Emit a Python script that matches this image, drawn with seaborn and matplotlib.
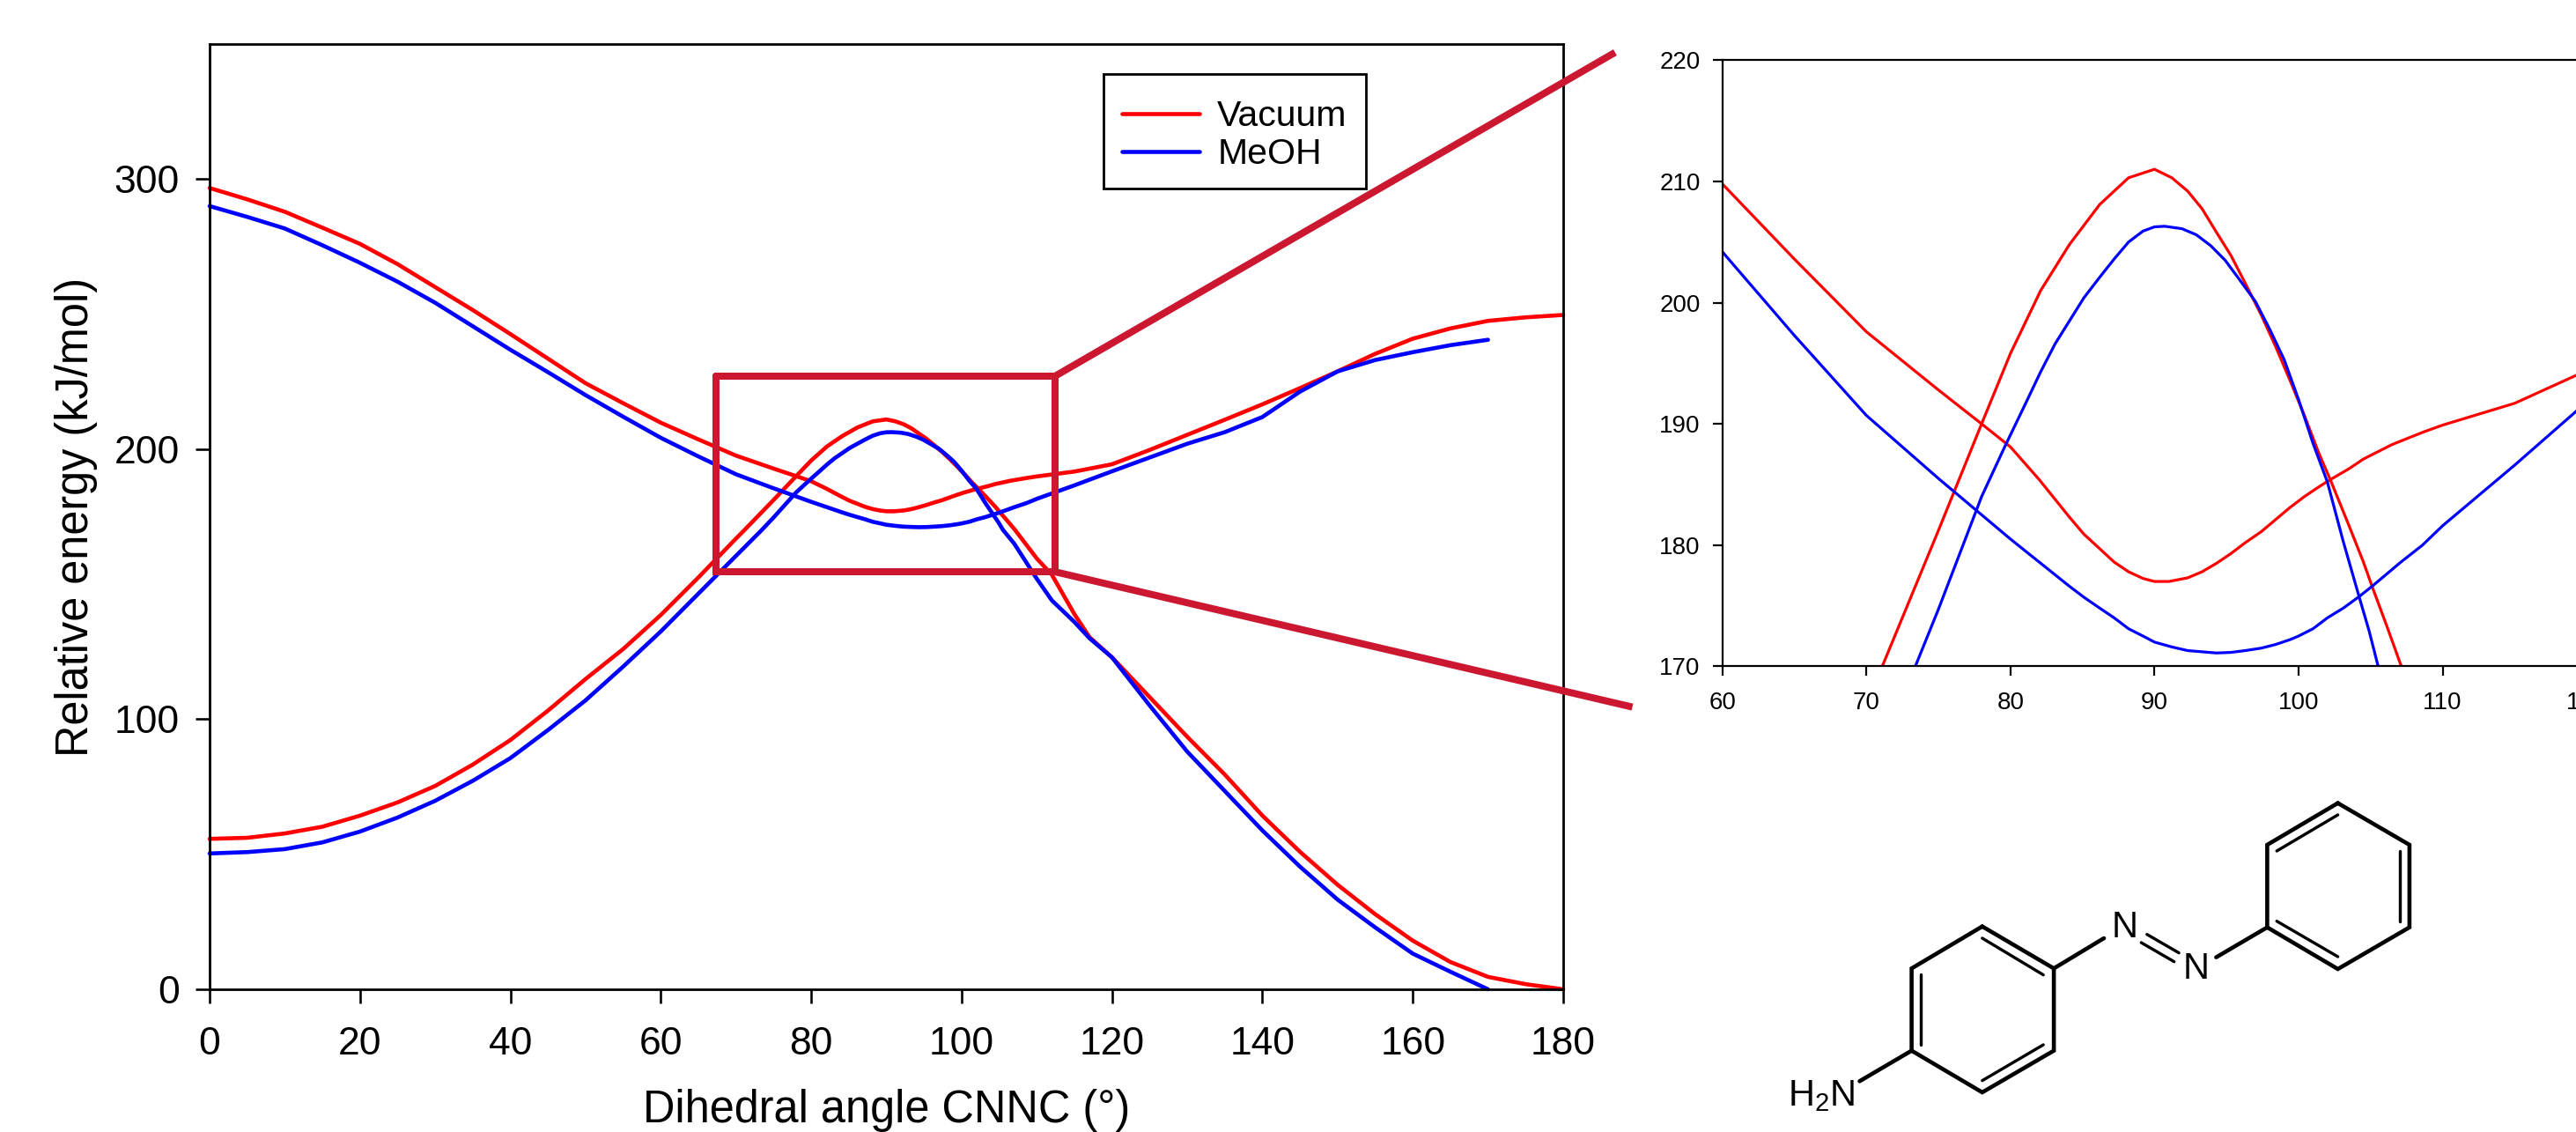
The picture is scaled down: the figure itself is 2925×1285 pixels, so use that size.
import matplotlib
matplotlib.use("Agg")
import matplotlib.pyplot as plt
from matplotlib.patches import Rectangle
import seaborn as sns
import pandas as pd

# upper curve (starts high at 0 deg), lower curve (starts low at 0 deg)
vac_up_x = [0, 5, 10, 15, 20, 25, 30, 35, 40, 45, 50, 55, 60, 65, 70, 75, 78, 80, 82, 84.1, 85.1, 86.2, 87.2,
            88.2, 89.2, 90, 91, 92.3, 93.3, 94.3, 95.3, 96.3, 97.4, 98.4, 99.4, 100.4, 101.4, 102.2, 103.5,
            104.5, 105.5, 106.5, 108.6, 110, 115, 120, 125, 130, 135, 140, 145, 150, 155, 160, 165, 170, 175, 180]
vac_up_y = [296.7, 292.5, 287.9, 282, 276, 268.5, 260, 251.5, 242.6, 233.5, 224.4, 217, 209.8, 203.6,
            197.6, 192.8, 190, 188.1, 185.4, 182.3, 180.9, 179.7, 178.6, 177.8, 177.25, 177, 177, 177.3,
            177.8, 178.5, 179.3, 180.2, 181.1, 182.1, 183.1, 184, 184.8, 185.4, 186.3, 187.1, 187.7, 188.3,
            189.3, 189.9, 191.7, 194.4, 199.7, 205.3, 210.9, 216.6, 222.6, 228.8, 235.3, 240.9, 244.7,
            247.5, 248.8, 249.7]

vac_low_x = [0, 5, 10, 15, 20, 25, 30, 35, 40, 45, 50, 55, 60, 65, 70, 71, 75, 78, 80, 82.1, 84.1, 86.2, 88.2,
             90, 91.2, 92.3, 93.3, 94.3, 95.3, 96.3, 97.4, 98.4, 99.4, 100.4, 101.4, 102.2, 103.5, 104.5,
             105.1, 106.1, 107.1, 110, 112, 115, 117, 120, 125, 130, 135, 140, 145, 150, 155, 160, 165, 170,
             175, 180]
vac_low_y = [55.7, 56.1, 57.7, 60.2, 64.3, 69.2, 75.3, 83.2, 92.3, 103.2, 114.9, 126, 138.6, 152.5, 166.9,
             169.7, 181.2, 190, 195.8, 201, 204.8, 208.1, 210.3, 211, 210.3, 209.2, 207.75, 205.8, 203.9,
             201.6, 199, 196.4, 193.6, 190.7, 187.6, 185.4, 181.6, 178.6, 176.6, 173.4, 170.1, 159.5, 153.5,
             138.9, 130.4, 122.9, 108.2, 93.5, 79.5, 64.3, 50.9, 38.7, 27.8, 18, 10.1, 4.6, 1.9, 0]

meoh_up_x = [0, 5, 10, 15, 20, 25, 30, 35, 40, 45, 50, 55, 60, 65, 70, 75, 80, 84.1, 85.1, 86.2, 87.2, 88.2,
             89.2, 90, 91.2, 92.3, 93.3, 94.3, 95.3, 96.3, 97.4, 98.4, 99.4, 100, 101, 102, 103.1, 104.2,
             105.1, 106.1, 107.1, 108.6, 110, 115, 120, 125, 130, 135, 140, 145, 150, 155, 160, 165, 170]
meoh_up_y = [290, 286, 281.7, 275.5, 269, 262, 254.2, 245.5, 236.8, 228.5, 220, 212, 204.2, 197.3,
             190.7, 185.5, 180.5, 176.6, 175.7, 174.8, 174, 173.1, 172.5, 172, 171.6, 171.3, 171.2, 171.1,
             171.15, 171.3, 171.5, 171.8, 172.2, 172.5, 173.1, 174, 174.8, 175.75, 176.6, 177.6, 178.6, 180,
             181.6, 186.6, 191.8, 196.9, 202, 206.3, 211.9, 221.3, 228.8, 233, 235.9, 238.5, 240.5]

meoh_low_x = [0, 5, 10, 15, 20, 25, 30, 35, 40, 45, 50, 55, 60, 65, 70, 73.4, 75, 78, 79.6, 81.1, 82.1, 83.1,
              84.1, 85.1, 86.2, 87.2, 88.2, 89.2, 90, 90.7, 91.9, 92.9, 93.9, 94.9, 95.9, 97, 98, 99, 100, 101,
              102, 103.1, 104.2, 104.9, 105.5, 107, 110, 112, 115, 117, 120, 125, 130, 135, 140, 145, 150,
              155, 160, 165, 170]
meoh_low_y = [50.3, 50.8, 51.9, 54.4, 58.4, 63.6, 69.8, 77.2, 85.6, 96, 107, 119.5, 132.5, 146.5, 160.5, 170,
              174.7, 184, 188.1, 191.8, 194.3, 196.6, 198.5, 200.4, 202.1, 203.6, 205, 205.9, 206.25, 206.3,
              206.1, 205.6, 204.7, 203.5, 201.9, 200.1, 197.8, 195.3, 192, 188.4, 185.2, 180.3, 175.75, 172.9,
              170.1, 165, 152, 144, 136, 130, 122.9, 105.1, 88, 73.4, 58.8, 45.4, 33.2, 22.9, 13.2, 6.5, 0]

main_xticks = list(range(0, 181, 20))
main_yticks = [0, 100, 200, 300]
inset_xticks = list(range(60, 131, 10))
inset_yticks = list(range(170, 221, 10))

FIG_W, FIG_H = 2925, 1285
PX = 0.72  # one pixel in points at dpi 100
RED, BLUE, BOX = "#ff0000", "#0000ff", "#cc1731"


def frags(x, y, solvent, state):
    return pd.DataFrame({"angle": x, "energy": y, "solvent": solvent, "state": state})


df = pd.concat([frags(vac_up_x, vac_up_y, "Vacuum", "up"),
                frags(vac_low_x, vac_low_y, "Vacuum", "low"),
                frags(meoh_up_x, meoh_up_y, "MeOH", "up"),
                frags(meoh_low_x, meoh_low_y, "MeOH", "low")], ignore_index=True)

sns.set_theme(style="white")
plt.rcParams["font.family"] = ["Liberation Sans", "DejaVu Sans"]
plt.rcParams["mathtext.fontset"] = "custom"
plt.rcParams["mathtext.rm"] = "Liberation Sans"
plt.rcParams["mathtext.default"] = "regular"
plt.rcParams["text.color"] = "black"
plt.rcParams["axes.labelcolor"] = "black"
plt.rcParams["xtick.color"] = "black"
plt.rcParams["ytick.color"] = "black"


def px_axes(fig, left, top, right, bottom):
    return fig.add_axes([left / FIG_W, 1 - bottom / FIG_H, (right - left) / FIG_W, (bottom - top) / FIG_H])


fig = plt.figure(figsize=(FIG_W / 100, FIG_H / 100), dpi=100, facecolor="white")
palette = {"Vacuum": RED, "MeOH": BLUE}

# --- main panel
ax = px_axes(fig, 238, 50, 1775, 1123)
sns.lineplot(data=df, x="angle", y="energy", hue="solvent", units="state", estimator=None, sort=False,
             palette=palette, hue_order=["Vacuum", "MeOH"], linewidth=4.6 * PX, ax=ax, clip_on=False, legend=True)
ax.set_xlim(0, 180)
ax.set_ylim(0, 350)
ax.set_xticks(main_xticks)
ax.set_yticks(main_yticks)
ax.tick_params(axis="x", length=16 * PX, width=2.6 * PX, pad=26 * PX, labelsize=32, bottom=True)
ax.tick_params(axis="y", length=16 * PX, width=2.6 * PX, pad=18 * PX, labelsize=32, left=True)
for s in ax.spines.values():
    s.set_color("black")
    s.set_linewidth(2.8 * PX)
ax.set_xlabel("Dihedral angle CNNC (°)", fontsize=36.4, labelpad=0)
ax.set_ylabel("Relative energy (kJ/mol)", fontsize=36.4, labelpad=0)
ax.xaxis.set_label_coords(0.5, -(1274 - 1123) / 1073, transform=ax.transAxes)
ax.xaxis.label.set_verticalalignment("baseline")
ax.yaxis.set_label_coords(-(238 - 100) / 1537, 0.5, transform=ax.transAxes)
ax.yaxis.label.set_verticalalignment("baseline")

# legend frame is drawn apart below, so the rows can sit where they do in the picture
handles, labels = ax.get_legend_handles_labels()
leg = ax.legend(handles, labels, loc="upper left",
                bbox_to_anchor=((1250.7 - 238) / 1537, (1123 - 90) / 1073),
                fontsize=29.5, frameon=False,
                borderaxespad=0, borderpad=0.56, handlelength=2.15, handletextpad=0.5, labelspacing=0.12)

# zoom box and connectors, in data coordinates of the main panel
box_x = [67.3, 112.4, 112.4, 67.3, 67.3]
box_y = [227, 227, 154.6, 154.6, 227]
ax.plot(box_x, box_y, color=BOX, lw=8 * PX, clip_on=False, solid_joinstyle="miter", zorder=5)
ax.plot([112.4, 186.9], [227, 346.9], color=BOX, lw=8 * PX, clip_on=False, solid_capstyle="butt", zorder=5)
ax.plot([112.4, 189.2], [154.6, 104.5], color=BOX, lw=8 * PX, clip_on=False, solid_capstyle="butt", zorder=5)

# --- zoomed panel, runs off the right edge of the image
ins = px_axes(fig, 1955.6, 68.3, 1955.6 + 70 * 16.36, 756.4)
sns.lineplot(data=df, x="angle", y="energy", hue="solvent", units="state", estimator=None, sort=False,
             palette=palette, hue_order=["Vacuum", "MeOH"], linewidth=3.2 * PX, ax=ins, legend=False)
ins.set_xlim(60, 130)
ins.set_ylim(170, 220)
ins.set_xticks(inset_xticks)
ins.set_yticks(inset_yticks)
ins.tick_params(axis="x", length=11 * PX, width=2.2 * PX, pad=18 * PX, labelsize=20, bottom=True)
ins.tick_params(axis="y", length=11 * PX, width=2.2 * PX, pad=14 * PX, labelsize=20, left=True)
ins.set_xlabel("")
ins.set_ylabel("")
for s in ins.spines.values():
    s.set_color("black")
    s.set_linewidth(2.2 * PX)

# --- molecule, in image pixels
mol = fig.add_axes([0, 0, 1, 1], facecolor="none")
mol.set_xlim(0, FIG_W)
mol.set_ylim(FIG_H, 0)
mol.axis("off")
mol.add_patch(Rectangle((1252.7, 84.4), 297.8, 129.1, fill=False, edgecolor="black", lw=2.8 * PX))


def zx(v):
    return 1950 + v / 1.845


def zy(v):
    return 880 + v / 3


ring_a = [(555, 515), (705, 658), (705, 938), (555, 1080), (407, 938), (407, 658), (555, 515)]
ring_b = [(1300, 95), (1450, 237), (1450, 518), (1300, 660), (1152, 518), (1152, 237), (1300, 95)]
for ring in (ring_a, ring_b):
    mol.plot([zx(p[0]) for p in ring], [zy(p[1]) for p in ring], color="black", lw=4.6 * PX,
             solid_joinstyle="miter")
bonds = [((298, 1042), (407, 938)), ((705, 658), (810, 555)), ((1045, 620), (1152, 518))]
thin = [((555, 555), (683, 680)), ((427, 678), (427, 918)), ((555, 1040), (683, 918)),
        ((1172, 258), (1300, 135)), ((1430, 258), (1430, 497)), ((1172, 497), (1300, 618)),
        ((900, 542), (967, 605)), ((888, 570), (957, 635))]
for a, b in bonds:
    mol.plot([zx(a[0]), zx(b[0])], [zy(a[1]), zy(b[1])], color="black", lw=4.6 * PX)
for a, b in thin:
    mol.plot([zx(a[0]), zx(b[0])], [zy(a[1]), zy(b[1])], color="black", lw=3.4 * PX)
mol.text(zx(853), zy(520), "N", fontsize=30, ha="center", va="center")
mol.text(zx(1003), zy(660), "N", fontsize=30, ha="center", va="center")
mol.text(zx(148), zy(1125), "H$_2$N", fontsize=30, ha="left", va="baseline")

fig.savefig("out.png", dpi=100, facecolor="white")
